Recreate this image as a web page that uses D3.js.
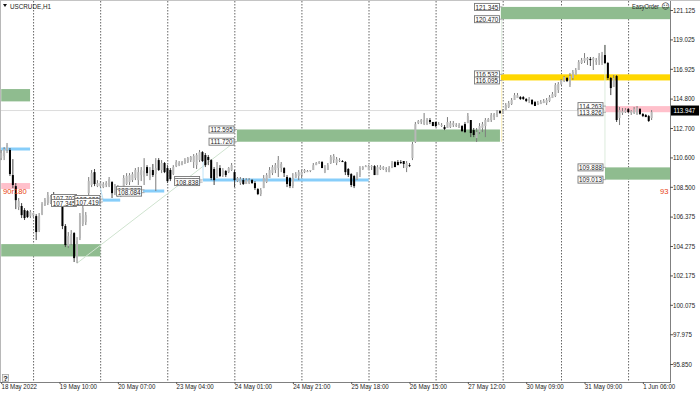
<!DOCTYPE html>
<html><head><meta charset="utf-8">
<script src="https://cdn.jsdelivr.net/npm/d3@7/dist/d3.min.js"></script>
<style>html,body{margin:0;padding:0;background:#fff}svg{display:block}text{font-family:"Liberation Sans",sans-serif;font-size:7.4px;fill:#222}</style>
</head><body><svg id="c" width="700" height="393"></svg>
<script>
const opens=[110.55,110.70,111.13,111.13,109.34,108.55,107.05,107.13,106.84,106.77,
106.41,106.48,106.41,105.41,106.55,107.20,107.34,107.34,107.91,107.27,
107.20,107.27,105.70,104.27,104.41,105.20,103.41,104.84,105.84,105.98,
108.05,108.63,109.55,108.55,108.55,108.48,108.63,108.55,108.84,108.05,
107.98,107.84,108.55,108.70,108.84,108.98,109.13,108.98,109.34,109.20,
109.91,109.13,109.70,109.41,110.41,109.70,110.20,109.84,109.70,109.41,
109.98,110.05,110.05,110.20,110.27,110.41,110.27,110.05,110.41,110.98,
110.77,110.63,110.41,109.77,109.34,109.84,109.34,109.63,109.55,109.70,
109.55,108.91,108.77,108.98,108.70,108.77,108.98,108.77,108.34,107.98,
108.41,108.84,109.13,109.48,109.70,109.84,109.84,109.84,109.20,109.13,
108.55,109.13,109.27,109.34,109.55,109.55,109.63,109.70,110.05,110.20,
110.27,109.55,109.70,110.20,110.41,110.20,110.34,110.34,110.27,109.77,
109.41,109.27,109.05,109.34,109.77,109.91,109.70,109.91,109.98,109.34,
109.77,109.77,109.70,109.55,109.84,110.27,110.27,110.27,110.34,109.84,
110.05,110.55,111.70,113.05,113.13,112.98,112.98,113.27,113.13,113.13,
112.91,112.84,112.77,112.70,112.77,112.91,112.84,112.70,112.84,112.98,
113.05,113.27,112.55,111.98,112.41,112.70,112.84,113.13,113.27,113.48,
113.63,113.91,113.70,113.98,114.20,114.41,114.70,114.84,114.91,114.91,
114.77,114.63,114.70,114.55,114.34,114.41,114.48,114.48,114.63,114.84,
114.98,115.41,115.84,116.05,116.27,115.77,116.27,116.48,116.84,117.34,
117.48,117.55,117.63,117.55,117.41,117.55,117.34,117.91,117.34,116.27,
115.63,116.41,113.41,113.77,113.84,114.05,113.77,113.77,113.70,114.05,
113.70,113.63,113.55,113.41];
const closes=[110.91,111.20,111.48,109.41,108.63,107.55,107.48,106.48,106.27,106.34,
106.70,106.63,105.27,106.41,107.27,107.55,107.91,107.77,107.41,107.55,
107.48,105.70,104.34,104.98,105.13,103.41,104.63,106.41,106.98,106.48,
108.91,109.48,108.70,108.77,108.77,108.70,108.77,109.05,108.05,108.55,
108.41,108.27,109.13,109.27,109.34,109.41,109.70,109.55,109.70,109.63,
109.48,109.70,109.34,109.84,109.70,110.20,109.55,108.91,109.05,109.91,
110.27,110.20,110.27,110.41,110.55,110.63,110.70,110.77,110.98,110.34,
110.05,110.41,109.13,108.98,109.84,109.27,109.70,109.34,109.84,110.05,
108.98,109.13,109.05,108.70,108.98,108.98,108.77,108.41,107.98,108.27,
109.13,109.34,109.70,109.91,110.05,110.41,110.13,109.48,108.70,108.55,
109.13,109.41,109.55,109.55,109.70,109.63,109.70,110.05,110.20,110.27,
109.84,109.84,110.05,110.63,110.70,110.48,110.41,110.27,109.55,109.34,
108.63,108.55,109.41,109.84,109.91,109.98,109.98,109.98,109.34,109.91,
109.91,109.91,109.77,109.84,110.20,109.91,110.05,110.20,110.13,110.20,
110.00,111.55,112.98,113.20,113.27,113.27,113.27,113.13,112.84,112.84,
112.98,112.91,112.63,113.13,113.05,113.05,112.91,112.91,112.48,112.41,
113.55,112.34,112.20,112.41,112.84,112.98,113.27,113.34,113.63,113.70,
113.84,113.77,113.91,114.34,114.48,114.70,115.05,115.05,114.77,114.77,
114.63,114.77,114.41,114.27,114.48,114.55,114.63,114.70,114.91,115.13,
115.77,115.84,116.13,116.34,116.05,116.41,116.70,116.84,117.41,117.55,
117.70,117.70,117.55,117.70,117.55,117.84,117.91,117.34,116.27,115.55,
116.27,113.27,113.98,113.91,113.98,113.84,113.91,114.05,114.13,113.70,
113.55,113.48,113.20,113.84];
const highs=[111.13,111.34,111.63,111.27,110.48,108.77,107.70,107.34,106.98,106.84,
106.84,106.63,106.55,106.63,107.41,107.70,108.13,107.91,108.13,107.77,
107.70,107.55,105.84,105.27,105.41,105.27,104.91,106.63,107.20,106.70,
109.20,109.70,109.77,108.98,108.91,108.84,108.91,109.20,108.91,108.70,
108.63,108.41,109.34,109.48,109.48,109.55,109.84,109.91,109.91,110.55,
110.05,109.91,110.13,110.55,110.55,110.41,110.27,110.05,109.84,110.05,
110.41,110.34,110.34,110.55,110.63,110.70,110.84,110.91,111.13,111.05,
110.91,110.77,110.48,109.91,110.27,110.05,109.84,109.70,109.91,110.20,
109.70,109.20,109.20,109.13,109.13,109.13,109.05,108.91,108.41,108.41,
109.34,109.48,109.91,110.05,110.20,110.70,110.27,109.91,109.34,109.20,
109.48,109.55,109.70,109.70,109.77,109.70,109.70,110.20,110.27,110.34,
110.34,110.05,110.20,110.77,110.84,110.63,110.55,110.41,110.34,109.84,
109.48,109.34,109.55,109.98,109.98,110.05,110.05,110.05,110.05,110.05,
110.05,109.98,109.91,109.98,110.34,110.34,110.41,110.41,110.34,110.34,
110.20,111.70,113.13,113.27,113.34,113.77,113.41,113.41,113.13,113.13,
113.13,113.05,112.91,113.48,113.20,113.20,113.05,113.05,112.91,113.13,
113.77,113.27,112.70,112.70,113.05,113.13,113.41,113.41,113.77,113.77,
113.98,113.98,114.05,114.48,114.63,114.84,115.20,115.20,114.98,114.98,
114.84,114.91,114.77,114.63,114.63,114.70,114.77,114.84,115.05,115.27,
115.91,115.98,116.20,116.41,116.34,116.63,116.84,116.98,117.55,117.70,
118.05,117.77,117.77,117.77,117.70,118.05,118.13,118.63,117.41,116.34,
116.48,116.48,114.20,114.13,114.13,114.13,113.98,114.20,114.27,114.13,
113.77,113.70,113.63,113.98];
const lows=[110.41,110.41,110.91,109.27,108.41,106.91,106.84,106.27,106.13,106.27,
106.27,106.34,104.70,105.27,106.48,107.13,107.20,107.27,107.27,107.20,
107.13,105.48,104.20,104.13,104.34,103.13,103.05,104.70,105.70,105.77,
107.91,108.48,108.55,108.48,108.48,108.41,108.48,108.48,107.70,107.91,
107.77,107.77,108.41,108.63,108.63,108.84,108.98,108.63,108.91,108.63,
109.27,108.98,109.20,108.20,109.63,109.48,109.48,108.77,108.91,109.34,
109.91,109.98,110.05,110.13,110.20,110.27,109.84,109.77,110.27,110.27,
109.91,110.05,108.98,108.63,109.13,109.20,109.20,109.20,109.48,109.63,
108.48,108.84,108.63,108.63,108.70,108.70,108.70,108.27,107.91,107.84,
108.41,108.77,109.13,109.34,109.48,109.20,109.55,109.20,108.48,108.41,
108.41,109.20,108.98,109.13,109.48,109.55,109.55,109.70,110.05,110.13,
109.84,109.48,109.70,110.13,110.20,110.05,110.27,110.27,109.34,109.20,
108.48,108.41,108.98,109.20,109.70,109.91,109.70,109.70,109.34,109.34,
109.70,109.70,109.55,109.55,109.84,109.91,110.05,110.13,109.84,109.55,
109.91,110.41,111.63,112.98,112.98,112.91,112.91,112.98,112.84,112.77,
112.91,112.77,112.55,112.70,112.70,112.77,112.77,112.70,112.41,112.34,
113.05,112.05,112.05,111.70,112.27,112.41,112.05,113.13,113.13,113.27,
113.48,113.70,113.70,113.98,114.13,114.34,114.70,114.84,114.70,114.70,
114.55,114.48,114.34,114.27,114.34,114.41,114.48,114.34,114.55,114.84,
114.91,115.20,115.77,115.98,115.98,115.63,116.13,116.48,116.84,117.27,
117.34,117.20,117.13,116.84,117.20,117.20,117.20,117.27,116.13,115.05,
115.63,113.13,112.91,113.63,113.77,113.77,113.63,113.70,113.63,113.63,
113.48,113.48,113.13,113.27];

const priceTicks=[121.125,119.025,116.925,114.800,112.700,110.600,108.500,106.375,104.275,102.175,100.075,97.975,95.850];
const timeBars=[0,20,40,60,80,100,120,140,160,180,200,220];
const timeLabels=["18 May 2022","19 May 10:00","20 May 07:00","23 May 04:00","24 May 01:00","24 May 21:00","25 May 18:00","26 May 15:00","27 May 12:00","30 May 09:00","31 May 09:00","1 Jun 06:00"];
const dayBars=[11,34,57,80,103,126,149,172,192,215];
const lastPrice=113.947;

const zoneKinds=["green","green","yellow","pink","green","green","green","pink"];
const zoneTop=[121.345,112.595,116.532,114.263,109.888,115.48,104.41,108.77];
const zoneBottom=[120.470,111.720,116.095,113.826,109.013,114.60,103.53,108.34];
const zoneFrom=[171.3,80.8,171.3,207,207,0,0,0];
const zoneTo=[229.3,171,229.3,229.3,229.3,9.9,34,9.9];

const levelPrice=[111.2,107.55,108.2,108.98];
const levelFrom=[0,34.8,48.6,69.2];
const levelTo=[9.9,40.8,55.9,126];

const tagText=["121.345","120.470","116.532","116.095","114.263","113.826","109.888","109.013","112.595","111.720","108.283","108.084","108.988","108.838","107.702","107.345","107.628","107.419"];
const tagPrice=[121.345,120.470,116.532,116.095,114.263,113.826,109.888,109.013,112.595,111.720,108.283,108.084,108.988,108.838,107.702,107.345,107.628,107.419];
const tagBar=[171,171,171,171,206.5,206.5,206.5,206.5,80,80,48.3,48.3,68.2,68.2,26,26,34,34];

const linkKinds=["#cfe3cf","#dcebdc","#fdf0b8","#dcebdc","#bfe4f8","#bfe4f8"];
const linkFromBar=[26,171.6,171.6,207,34,69.2];
const linkFromPrice=[103.05,120.47,116.09,118.63,108.4,110.4];
const linkToBar=[80.5,171.6,171.6,207,35,69.2];
const linkToPrice=[111.77,116.53,111.72,109.89,107.55,108.98];

const zoneColor={green:"#8fbc8f",yellow:"#ffd700",pink:"#ffc0cb"};
const W=700,H=393,axisX=670,axisY=382,font='"Liberation Sans",sans-serif';
const svg=d3.select("#c");
const x=d3.scaleLinear().domain([0,229.3]).range([1.2,axisX]);
const y=d3.scaleLinear().domain([121.125,95.85]).range([10,364]);

const bars=d3.range(opens.length).map(i=>({i,o:opens[i],c:closes[i],h:highs[i],l:lows[i]}));

// frame
svg.append("rect").attr("x",0).attr("y",0).attr("width",W).attr("height",1).attr("fill","#c4c4c4");
svg.append("rect").attr("x",0).attr("y",0).attr("width",1).attr("height",axisY).attr("fill","#b8b8b8");

// day separators
svg.append("g").selectAll("line").data(dayBars).join("line")
 .attr("x1",d=>x(d)+.3).attr("x2",d=>x(d)+.3).attr("y1",1).attr("y2",axisY)
 .attr("stroke","#666").attr("stroke-dasharray","1.5,1.5");

// last price line
svg.append("line").attr("x1",1).attr("x2",axisX).attr("y1",y(lastPrice)).attr("y2",y(lastPrice)).attr("stroke","#dcdcdc");

// zones
svg.append("g").selectAll("rect").data(d3.range(zoneTop.length)).join("rect")
 .attr("x",i=>x(zoneFrom[i])).attr("width",i=>x(zoneTo[i])-x(zoneFrom[i]))
 .attr("y",i=>y(zoneTop[i])).attr("height",i=>y(zoneBottom[i])-y(zoneTop[i]))
 .attr("fill",i=>zoneColor[zoneKinds[i]]);

// links
svg.append("g").selectAll("line").data(d3.range(linkKinds.length)).join("line")
 .attr("x1",i=>x(linkFromBar[i])).attr("x2",i=>x(linkToBar[i]))
 .attr("y1",i=>y(linkFromPrice[i])).attr("y2",i=>y(linkToPrice[i]))
 .attr("stroke",i=>linkKinds[i]).attr("stroke-width",1);

// levels
svg.append("g").selectAll("line").data(d3.range(levelPrice.length)).join("line")
 .attr("x1",i=>x(levelFrom[i])).attr("x2",i=>x(levelTo[i]))
 .attr("y1",i=>y(levelPrice[i])).attr("y2",i=>y(levelPrice[i]))
 .attr("stroke","#87cefa").attr("stroke-width",3);

// candles
const cg=svg.append("g");
cg.selectAll("line").data(bars).join("line")
 .attr("x1",d=>x(d.i)).attr("x2",d=>x(d.i)).attr("y1",d=>y(d.h)).attr("y2",d=>y(d.l))
 .attr("stroke",d=>d.c>=d.o?"#7c7c7c":"#444").attr("stroke-width",1);
cg.selectAll("rect").data(bars).join("rect")
 .attr("x",d=>x(d.i)-1).attr("width",2)
 .attr("y",d=>y(Math.max(d.o,d.c))).attr("height",d=>Math.max(1,Math.abs(y(d.o)-y(d.c))))
 .attr("fill",d=>d.c>=d.o?"#b8b8b8":"#000");

// price tags
const tg=svg.append("g");
const tags=tg.selectAll("g").data(d3.range(tagText.length)).join("g")
 .attr("transform",i=>`translate(${x(tagBar[i])-25.5},${y(tagPrice[i])-3.5})`);
tags.append("line").attr("x1",25).attr("x2",28).attr("y1",3.5).attr("y2",3.5).attr("stroke","#aaa");
tags.append("rect").attr("width",25).attr("height",7).attr("fill","#fff").attr("stroke","#777").attr("stroke-width",.9);
tags.append("text").attr("class","sq").attr("x",12.5).attr("y",6.2).attr("text-anchor","middle").style("font-size","7.6px").attr("fill","#111").text(i=>tagText[i]);

// notes
svg.append("text").attr("x",3).attr("y",194).style("fill","#e8400c").style("font-size","7.6px").text("90r180");
svg.append("text").attr("x",660).attr("y",194).style("fill","#e8400c").style("font-size","7.6px").text("93");

// axes
const yAxis=d3.axisRight(y).tickValues(priceTicks).tickSize(3).tickPadding(0).tickFormat(d3.format(".3f"));
const ga=svg.append("g").attr("transform",`translate(${axisX},0)`).call(yAxis);
ga.select(".domain").attr("d",`M0.5,1V${axisY}`).attr("stroke","#808080");
ga.selectAll(".tick line").attr("stroke","#555");
ga.selectAll("text").classed("sq",true).style("font-family",font).style("font-size","7.4px").style("fill","#222");

const xAxis=d3.axisBottom(x).tickValues(timeBars).tickSize(2).tickPadding(0).tickFormat((d,i)=>timeLabels[i]);
const gb=svg.append("g").attr("transform",`translate(0,${axisY})`).call(xAxis);
gb.select(".domain").attr("d",`M0,0.5H${axisX+1}`).attr("stroke","#808080");
gb.selectAll(".tick line").attr("stroke","#555");
gb.selectAll("text").classed("sq",true).attr("text-anchor","start").attr("dx",-0.2).style("font-family",font).style("font-size","7.4px").style("fill","#222");

// last price badge
svg.append("rect").attr("x",671).attr("y",y(lastPrice)-5).attr("width",28).attr("height",10).attr("fill","#000");
svg.append("text").attr("class","sq").attr("x",673.5).attr("y",y(lastPrice)+2.6).style("fill","#fff").text(d3.format(".3f")(lastPrice));

// title and tool labels
svg.append("path").attr("d",d3.line()([[3,4],[7,4],[5,7]])+"Z").attr("fill","#111");
svg.append("text").attr("class","sq").attr("x",10).attr("y",8.6).style("font-size","7.6px").text("USCRUDE,H1");
svg.append("text").attr("class","sq").attr("x",632).attr("y",8.6).style("font-size","6.8px").text("EasyOrder");
svg.append("text").attr("x",661.5).attr("y",9.4).style("font-family","DejaVu Sans").style("font-size","8px").text("☺");
svg.append("rect").attr("x",2.5).attr("y",374.5).attr("width",6).attr("height",7).attr("fill","#f0f0f0").attr("stroke","#999").attr("stroke-width",.7);
svg.append("text").attr("x",5.5).attr("y",380.5).attr("text-anchor","middle").style("font-weight","bold").text("?");

// squeeze the labels to the condensed look of the terminal's own font
svg.selectAll("text.sq").each(function(){
  const len=this.getComputedTextLength();
  d3.select(this).attr("textLength",(len*0.83).toFixed(1)).attr("lengthAdjust","spacingAndGlyphs");
});
</script></body></html>
